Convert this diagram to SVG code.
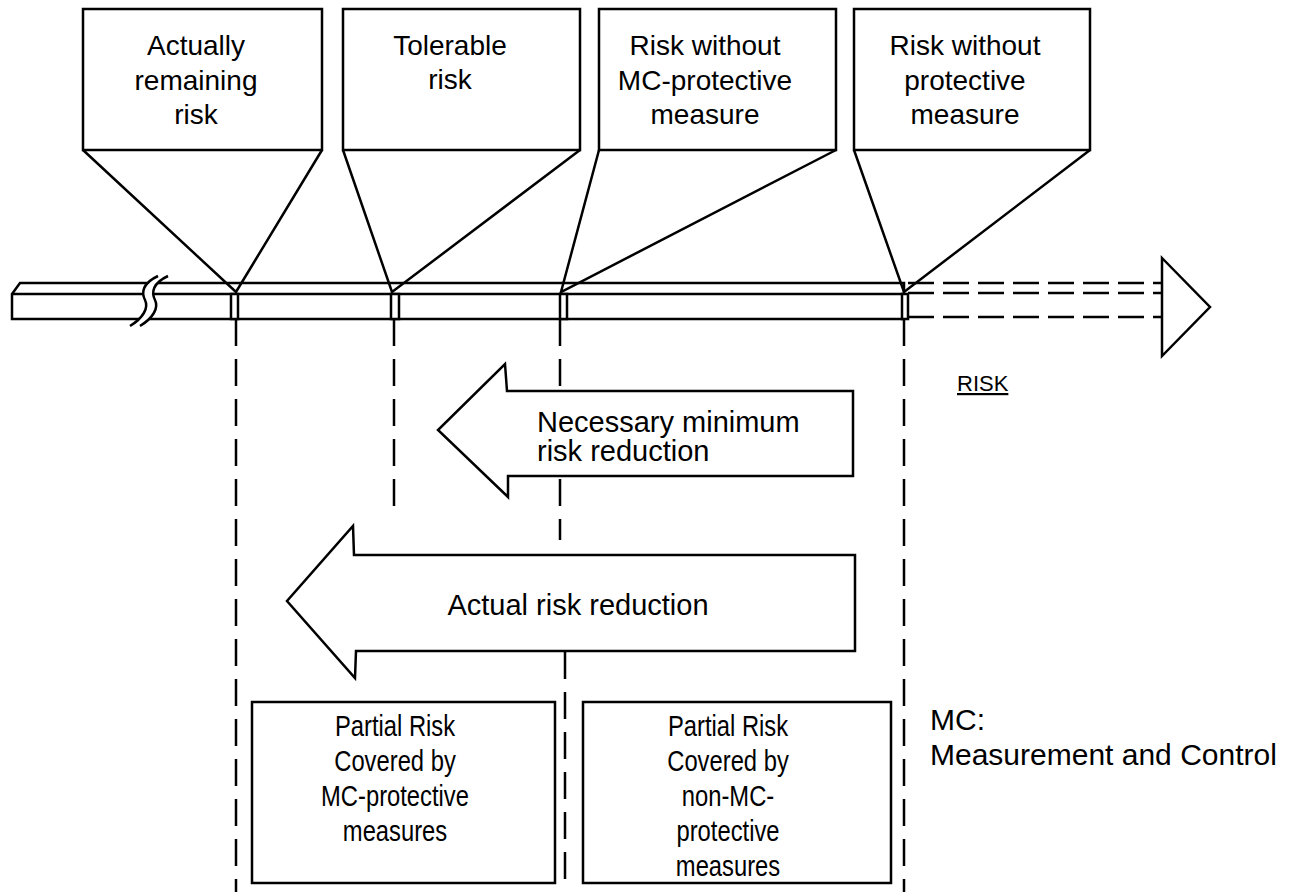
<svg xmlns="http://www.w3.org/2000/svg" width="1290" height="892" viewBox="0 0 1290 892">
<style>
.s{fill:none;stroke:#000;stroke-width:2.5;stroke-linejoin:miter}
.w{fill:#fff;stroke:#000;stroke-width:2.5}
.d{fill:none;stroke:#000;stroke-width:2.5;stroke-dasharray:27 13}
.dh{fill:none;stroke:#000;stroke-width:2.5;stroke-dasharray:26 9}
.t{font-family:"Liberation Sans",Arial,sans-serif;font-size:28px;fill:#000;text-anchor:middle}
.tb{font-family:"Liberation Sans",Arial,sans-serif;font-size:29px;fill:#000;text-anchor:middle}
.tl{font-family:"Liberation Sans",Arial,sans-serif;font-size:29px;fill:#000}
</style>
<rect width="1290" height="892" fill="#fff"/>
<g id="connectors">
<line class="d" x1="236" y1="319" x2="236" y2="892"/>
<line class="d" x1="394" y1="319" x2="394" y2="515"/>
<line class="d" x1="560" y1="319" x2="560" y2="540"/>
<line class="d" x1="565" y1="652" x2="565" y2="892"/>
<line class="d" x1="904" y1="319" x2="904" y2="892"/>
</g>
<g id="bar">
<path class="w" d="M12,294 L20,283 L904,283 L904,319 L12,319 Z"/>
<line class="s" x1="12" y1="294" x2="904" y2="294"/>
<path d="M158,276 C143,283 141,292 145,300 C149,308 143,318 130,326 L140,326 C153,318 159,308 155,300 C151,292 153,283 168,276 Z" fill="#fff" stroke="none"/>
<path class="s" d="M158,276 C143,283 141,292 145,300 C149,308 143,318 130,326"/>
<path class="s" d="M168,276 C153,283 151,292 155,300 C159,308 153,318 140,326"/>
<rect class="w" x="231" y="294" width="7" height="25"/>
<rect class="w" x="391" y="294" width="8" height="25"/>
<rect class="w" x="560" y="294" width="7" height="25"/>
<rect class="w" x="902" y="294" width="6" height="25"/>
<line class="dh" x1="908" y1="283" x2="1162" y2="283"/>
<line class="dh" x1="908" y1="293" x2="1162" y2="293"/>
<line class="dh" x1="908" y1="317" x2="1162" y2="317"/>
<polygon class="w" points="1162,258 1210,307 1162,356"/>
<text x="957" y="391" style="font-family:'Liberation Sans',Arial,sans-serif;font-size:22px;text-decoration:underline">RISK</text>
</g>
<g id="callout1">
<rect class="w" x="83" y="9" width="239" height="141"/>
<polyline class="s" points="83,150 236,292 322,150"/>
<text class="t" x="196" y="55">Actually</text>
<text class="t" x="196" y="90">remaining</text>
<text class="t" x="196" y="124">risk</text>
</g>
<g id="callout2">
<rect class="w" x="343" y="9" width="237" height="141"/>
<polyline class="s" points="343,150 392,292 580,150"/>
<text class="t" x="450" y="55">Tolerable</text>
<text class="t" x="450" y="89">risk</text>
</g>
<g id="callout3">
<rect class="w" x="599" y="9" width="237" height="141"/>
<polyline class="s" points="599,150 561,292 836,150"/>
<text class="t" x="705" y="55">Risk without</text>
<text class="t" x="705" y="90">MC-protective</text>
<text class="t" x="705" y="124">measure</text>
</g>
<g id="callout4">
<rect class="w" x="854" y="9" width="236" height="141"/>
<polyline class="s" points="854,150 904,292 1090,150"/>
<text class="t" x="965" y="55">Risk without</text>
<text class="t" x="965" y="90">protective</text>
<text class="t" x="965" y="124">measure</text>
</g>
<g id="arrow-necessary">
<polygon class="w" points="853,391 507,391 505,364 438,430 508,497 508,476 853,476"/>
<text class="tl" x="537" y="432">Necessary minimum</text>
<text class="tl" x="537" y="461">risk reduction</text>
</g>
<g id="arrow-actual">
<polygon class="w" points="855,555 354,555 353,526 287,601 355,678 356,651 855,651"/>
<text class="tl" x="578" y="615" text-anchor="middle">Actual risk reduction</text>
</g>
<g id="box-mc">
<rect class="w" x="252" y="702" width="303" height="181"/>
<g transform="translate(395,0) scale(0.82,1)">
<text class="tb" x="0" y="736">Partial Risk</text>
<text class="tb" x="0" y="771">Covered by</text>
<text class="tb" x="0" y="806">MC-protective</text>
<text class="tb" x="0" y="841">measures</text>
</g>
</g>
<g id="box-nonmc">
<rect class="w" x="583" y="702" width="308" height="181"/>
<g transform="translate(728,0) scale(0.82,1)">
<text class="tb" x="0" y="736">Partial Risk</text>
<text class="tb" x="0" y="771">Covered by</text>
<text class="tb" x="0" y="806">non-MC-</text>
<text class="tb" x="0" y="841">protective</text>
<text class="tb" x="0" y="876">measures</text>
</g>
</g>
<g id="legend">
<text class="tl" x="930" y="730" style="font-size:30px">MC:</text>
<text class="tl" x="930" y="765" style="font-size:30px">Measurement and Control</text>
</g>
</svg>
